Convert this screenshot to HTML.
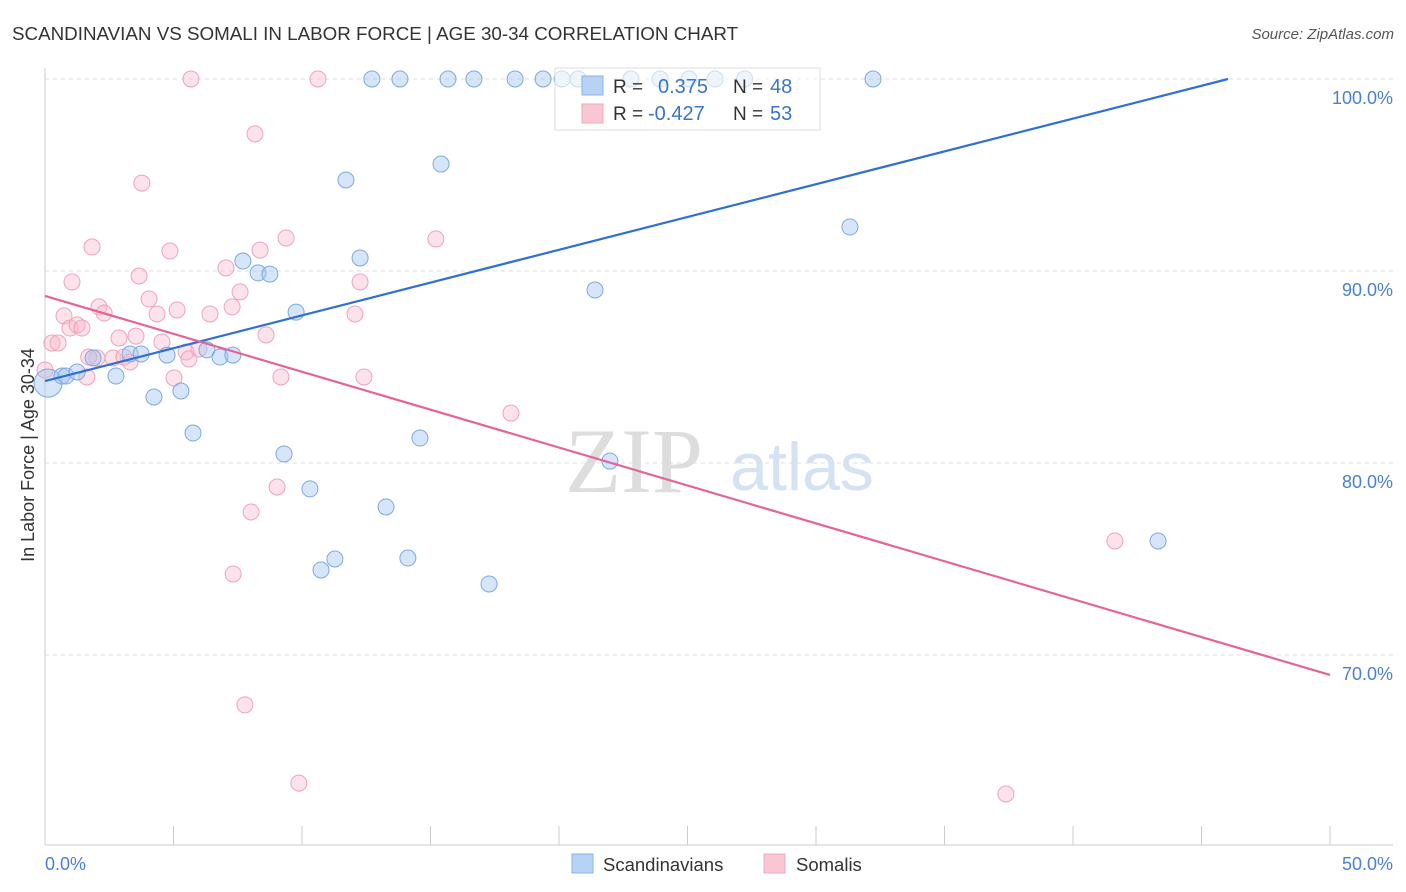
<!DOCTYPE html>
<html><head><meta charset="utf-8"><style>
body{margin:0;background:#fff;font-family:"Liberation Sans",sans-serif}
svg{display:block}
</style></head><body>
<svg id="c" width="1406" height="892" viewBox="0 0 1406 892">
<text x="12" y="40" font-size="18.8" fill="#333">SCANDINAVIAN VS SOMALI IN LABOR FORCE | AGE 30-34 CORRELATION CHART</text>
<text x="1394" y="39" font-size="15" fill="#555" font-style="italic" text-anchor="end">Source: ZipAtlas.com</text>
<text x="634" y="492" font-size="92" fill="#ddd" text-anchor="middle" font-family="Liberation Serif">ZIP</text>
<text x="802" y="490" font-size="68" fill="#d4e2f4" text-anchor="middle">atlas</text>
<g id="grid"></g><g id="pts"></g><g id="lines"></g>
<text transform="translate(34,455) rotate(-90)" font-size="18" fill="#333" text-anchor="middle">In Labor Force | Age 30-34</text>
<g>
<rect x="555" y="68" width="265" height="62" fill="rgba(255,255,255,0.6)" stroke="#ddd"/>
<rect x="582" y="76" width="21" height="19" fill="#b8d2f4" stroke="#8ab2e6"/>
<rect x="582" y="104" width="21" height="19" fill="#f9c6d4" stroke="#f0a8bc"/>
<text x="613" y="93" font-size="19" fill="#333">R = </text><text x="658" y="93" font-size="20" fill="#3a74cc">0.375</text>
<text x="733" y="93" font-size="19" fill="#333">N = </text><text x="770" y="93" font-size="20" fill="#3a74cc">48</text>
<text x="613" y="120" font-size="19" fill="#333">R = </text><text x="648" y="120" font-size="20" fill="#3a74cc">-0.427</text>
<text x="733" y="120" font-size="19" fill="#333">N = </text><text x="770" y="120" font-size="20" fill="#3a74cc">53</text>
</g>
<g>
<rect x="572" y="854" width="21" height="19" fill="#b8d2f4" stroke="#8ab2e6"/>
<text x="603" y="871" font-size="18.5" fill="#333">Scandinavians</text>
<rect x="764" y="854" width="21" height="19" fill="#f9c6d4" stroke="#f0a8bc"/>
<text x="796" y="871" font-size="18.5" fill="#333">Somalis</text>
</g>
</svg>
<script>
const yTicks=[100,90,80,70];
const yTickLabels=["100.0%","90.0%","80.0%","70.0%"];
const xTicks=[0,5,10,15,20,25,30,35,40,45,50];
const blueX=[0.12,0.66,0.82,1.25,1.87,2.76,3.31,3.74,4.24,4.75,5.29,5.76,6.30,6.81,7.31,7.70,8.29,8.75,9.30,9.77,10.31,10.74,11.28,11.71,12.26,12.72,13.27,13.81,14.12,14.59,15.41,15.68,16.69,17.28,18.29,19.38,20.12,20.74,21.40,21.98,22.80,23.93,25.06,26.07,27.22,31.32,32.22,43.31];
const blueY=[84.16,84.53,84.53,84.74,85.47,84.53,85.68,85.68,83.44,85.62,83.75,81.56,85.89,85.52,85.62,90.52,89.90,89.84,80.47,87.86,78.65,74.43,75.0,94.74,90.68,100,77.71,100,75.05,81.30,95.57,100,100,73.7,100,100,100,100,89.01,80.10,100,100,100,100,100,92.29,100,75.94];
const blueR=[14,8,8,8,8,8,8,8,8,8,8,8,8,8,8,8,8,8,8,8,8,8,8,8,8,8,8,8,8,8,8,8,8,8,8,8,8,8,8,8,8,8,8,8,8,8,8,8];
const pinkX=[0.0,0.27,0.51,0.74,0.97,1.05,1.25,1.44,1.63,1.83,2.1,2.30,2.02,2.65,2.88,3.07,3.31,3.54,3.66,3.77,4.05,4.36,4.55,4.86,5.02,5.14,5.49,5.68,5.60,5.99,6.42,7.04,7.28,7.59,7.32,7.78,8.02,8.17,8.37,8.60,9.03,9.18,9.38,9.88,10.62,12.06,12.26,12.41,15.21,18.13,37.39,41.63,1.7];
const pinkY=[84.84,86.25,86.25,87.66,87.03,89.43,87.19,87.03,84.48,91.25,88.13,87.81,85.47,85.47,86.51,85.52,85.26,86.61,89.74,94.58,88.54,87.76,86.30,91.04,84.43,87.97,85.78,100,85.42,85.94,87.76,90.16,88.13,88.91,74.22,67.40,77.45,97.14,91.09,86.67,78.75,84.48,91.72,63.33,100,87.76,89.43,84.48,91.67,82.60,62.76,75.94,85.52];
const blueTrend=[84.27,0.3417];
const pinkTrend=[88.70,-0.3948];
const NS="http://www.w3.org/2000/svg";
const X=v=>45+v*25.7, Y=v=>79+(100-v)*19.2;
function mk(t,a,p){const e=document.createElementNS(NS,t);for(const k in a)e.setAttribute(k,a[k]);p.appendChild(e);return e;}
const grid=document.getElementById('grid');
yTicks.forEach((t,i)=>{
 const l=mk('line',{x1:45,x2:1393,y1:Y(t),y2:Y(t),stroke:'#ddd','stroke-dasharray':'4,4'},grid);
 
 
 const tx=mk('text',{x:1393,y:Y(t)+25,'font-size':18,fill:'#4a7fd4','text-anchor':'end'},grid);
 tx.textContent=yTickLabels[i];
 
 
});
const ax=mk('line',{x1:45,x2:45,y1:68,y2:845,stroke:'#ccc'},grid);


const bx=mk('line',{x1:45,x2:1393,y1:845,y2:845,stroke:'#ccc'},grid);


xTicks.forEach(t=>{const l=mk('line',{x1:X(t),x2:X(t),y1:826,y2:845,stroke:'#ccc'},grid);
 
 });
const xl0=mk('text',{x:45,y:870,'font-size':18,fill:'#4a7fd4'},grid);xl0.textContent=xTicks[0].toFixed(1)+'%';


const xl1=mk('text',{x:1393,y:870,'font-size':18,fill:'#4a7fd4','text-anchor':'end'},grid);xl1.textContent=xTicks[xTicks.length-1].toFixed(1)+'%';


const pts=document.getElementById('pts');
pinkX.forEach((v,i)=>{const c=mk('circle',{cx:X(v),cy:Y(pinkY[i]),r:8,fill:'rgba(248,182,202,0.4)',stroke:'#f0a3bb','stroke-width':1},pts);
 
 });
blueX.forEach((v,i)=>{const c=mk('circle',{cx:X(v),cy:Y(blueY[i]),r:blueR[i],fill:'rgba(164,198,240,0.45)',stroke:'#7caae2','stroke-width':1},pts);
 
 });
const lines=document.getElementById('lines');
const bxEnd=(100-blueTrend[0])/blueTrend[1];
const bl=mk('line',{x1:X(0),y1:Y(blueTrend[0]),x2:X(bxEnd),y2:Y(100),stroke:'#2f6fd6','stroke-width':2.2},lines);


const pl=mk('line',{x1:X(0),y1:Y(pinkTrend[0]),x2:X(50),y2:Y(pinkTrend[0]+50*pinkTrend[1]),stroke:'#e4649a','stroke-width':2.2},lines);


</script>
</body></html>
